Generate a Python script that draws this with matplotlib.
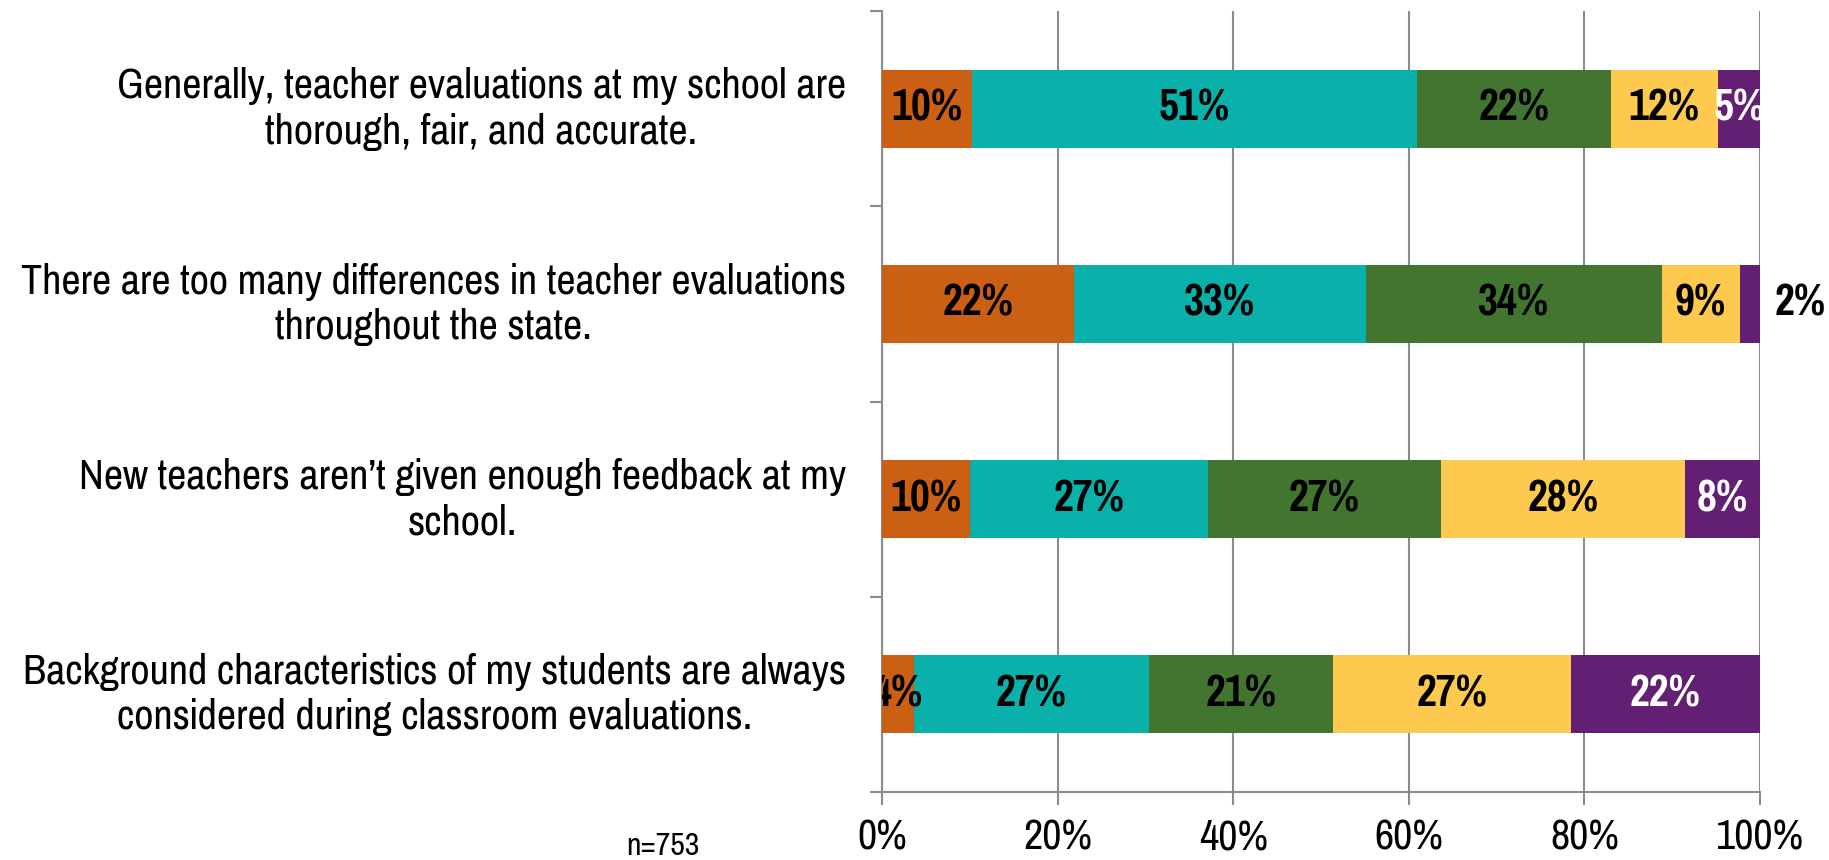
import matplotlib
matplotlib.use('Agg')
import matplotlib.pyplot as plt
from matplotlib import font_manager
import numpy as np

# survey statements, top to bottom
categories = [
    'Generally, teacher evaluations at my school are\nthorough, fair, and accurate.',
    'There are too many differences in teacher evaluations\nthroughout the state.',
    'New teachers aren\u2019t given enough feedback at my\nschool.',
    'Background characteristics of my students are always\nconsidered during classroom evaluations.',
]

# shares (%) per response, one value per statement
resp_1 = [10.2, 21.9, 10.0, 3.6]
resp_2 = [50.7, 33.2, 27.1, 26.8]
resp_3 = [22.1, 33.7, 26.6, 21.0]
resp_4 = [12.2, 8.9, 27.8, 27.1]
resp_5 = [4.8, 2.3, 8.5, 21.5]
labels_1 = ['10%', '22%', '10%', '4%']
labels_2 = ['51%', '33%', '27%', '27%']
labels_3 = ['22%', '34%', '27%', '21%']
labels_4 = ['12%', '9%', '28%', '27%']
labels_5 = ['5%', '2%', '8%', '22%']

colors = ['#CB5F14', '#09B1AA', '#427530', '#FDC94F', '#621F74']
label_colors = ['black', 'black', 'black', 'black', 'white']
xticks = [0, 20, 40, 60, 80, 100]
xticklabels = ['0%', '20%', '40%', '60%', '80%', '100%']
n_note = 'n=753'

# Arial Narrow look-alike, whichever is installed
installed = set(f.name for f in font_manager.fontManager.ttflist)
narrow = [f for f in ['Pragati Narrow', 'Archivo Narrow', 'Roboto Condensed', 'Liberation Sans']
          if f in installed] + ['DejaVu Sans']
plt.rcParams['font.family'] = narrow

series = [resp_1, resp_2, resp_3, resp_4, resp_5]
seglabels = [labels_1, labels_2, labels_3, labels_4, labels_5]

fig = plt.figure(figsize=(18.29, 8.6), dpi=100)
ax = fig.add_axes([882/1829, 1 - 792/860, 878/1829, 781/860])

y = np.arange(len(categories))
left = np.zeros(len(categories))
for i, vals in enumerate(series):
    vals = np.array(vals)
    ax.barh(y, vals, left=left, height=0.4, color=colors[i], edgecolor='none', zorder=3)
    for j, v in enumerate(vals):
        if v < 3:
            # tiny segment: label sits outside the bar
            ax.annotate(seglabels[i][j], (100, y[j]), xytext=(29, 0),
                        textcoords='offset points', ha='center', va='center',
                        fontsize=34, fontweight='bold', color='black',
                        annotation_clip=False)
        else:
            ax.text(left[j] + v / 2, y[j], seglabels[i][j], ha='center', va='center',
                    fontsize=34, fontweight='bold', color=label_colors[i],
                    clip_on=True, zorder=4)
    left += vals

ax.set_xlim(0, 100)
ax.set_ylim(len(categories) - 0.5, -0.5)

ax.set_xticks(xticks)
ax.set_xticklabels(xticklabels, fontsize=33)
ax.set_yticks(np.arange(-0.5, len(categories), 1.0))
ax.set_yticklabels([])
# labels nudged up a little, the narrow font sits low
ax.set_yticks(y - 0.035, minor=True)
ax.set_yticklabels(categories, minor=True, fontsize=33, ha='right',
                   multialignment='center', linespacing=1.24)
ax.tick_params(axis='y', which='minor', length=0, pad=26)
ax.tick_params(axis='y', which='major', length=9, width=1.5, color='#8C8C8C', direction='out')
ax.tick_params(axis='x', length=9, width=1.5, color='#8C8C8C', direction='out', pad=10)

ax.grid(axis='x', color='#8C8C8C', linewidth=1.5, zorder=0)
for side in ['top', 'right']:
    ax.spines[side].set_visible(False)
for side in ['left', 'bottom']:
    ax.spines[side].set_color('#8C8C8C')
    ax.spines[side].set_linewidth(1.5)

fig.text(663/1829, 1 - 846/860, n_note, ha='center', va='center', fontsize=25)

plt.savefig('out.png', dpi=100)
